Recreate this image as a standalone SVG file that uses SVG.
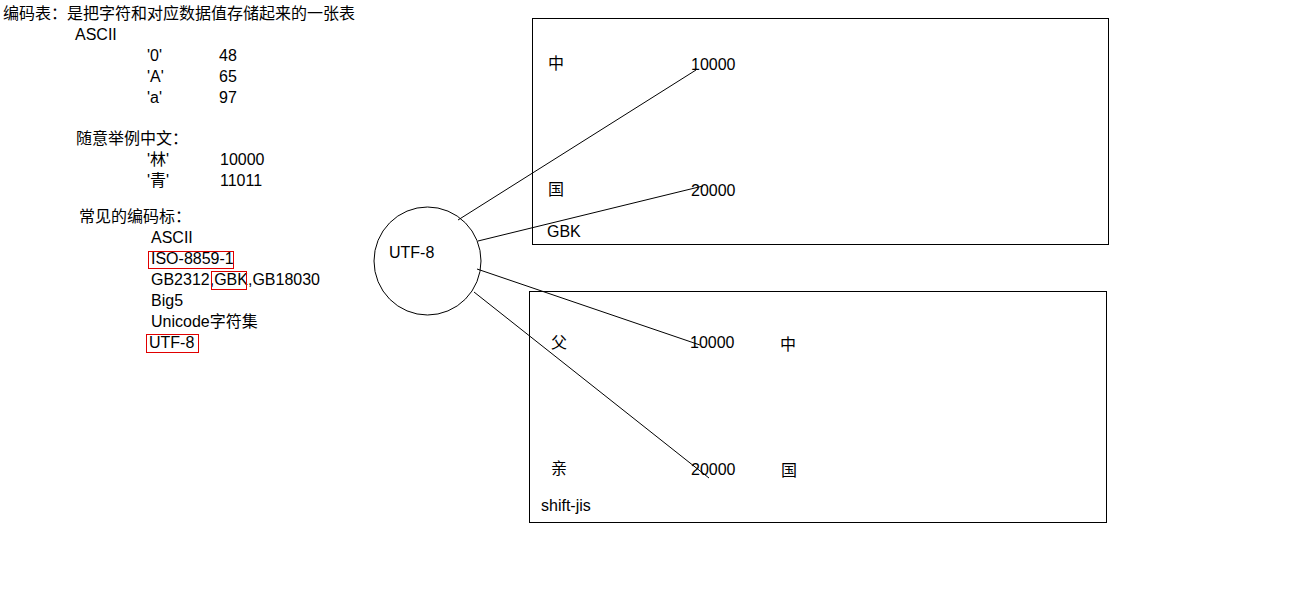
<svg xmlns="http://www.w3.org/2000/svg" width="1298" height="602" viewBox="0 0 1298 602">
<style>
text{font-family:"Liberation Sans","Noto Sans CJK SC",sans-serif;font-size:16px;fill:#000}
.box{fill:none;stroke:#000;stroke-width:1}
.hl{fill:none;stroke:#e00000;stroke-width:1}
.conn line{stroke:#000;stroke-width:1}
</style>
<rect width="1298" height="602" fill="#fff"/>
<g id="notes">
<text x="3" y="19">编码表：是把字符和对应数据值存储起来的一张表</text>
<text x="75" y="40">ASCII</text>
<text x="147" y="61">'0'</text><text x="219" y="61">48</text>
<text x="147" y="82">'A'</text><text x="219" y="82">65</text>
<text x="147" y="103">'a'</text><text x="219" y="103">97</text>
<text x="76" y="144">随意举例中文：</text>
<text x="147" y="165">'林'</text><text x="220" y="165">10000</text>
<text x="147" y="186">'青'</text><text x="220" y="186">11011</text>
<text x="79" y="222">常见的编码标：</text>
<text x="151" y="243">ASCII</text>
<text x="151" y="264">ISO-8859-1</text>
<rect class="hl" x="148.5" y="251.5" width="85" height="17"/>
<text x="151" y="285">GB2312,GBK,GB18030</text>
<rect class="hl" x="211.5" y="271.5" width="35" height="18"/>
<text x="151" y="306">Big5</text>
<text x="151" y="327">Unicode字符集</text>
<text x="149" y="348">UTF-8</text>
<rect class="hl" x="146.5" y="334.5" width="52" height="18"/>
</g>
<g id="utf8">
<ellipse class="box" cx="427.5" cy="261" rx="53.5" ry="54"/>
<text x="389" y="258">UTF-8</text>
</g>
<g id="gbk">
<rect class="box" x="532.5" y="18.5" width="576" height="226"/>
<text x="548" y="69">中</text>
<text x="691" y="70">10000</text>
<text x="548" y="195">国</text>
<text x="691" y="196">20000</text>
<text x="547" y="237">GBK</text>
</g>
<g id="shiftjis">
<rect class="box" x="529.5" y="291.5" width="577" height="231"/>
<text x="551" y="348">父</text>
<text x="690" y="348">10000</text>
<text x="780" y="350">中</text>
<text x="551" y="474">亲</text>
<text x="691" y="475">20000</text>
<text x="781" y="476">国</text>
<text x="541" y="511">shift-jis</text>
</g>
<g class="conn" id="connectors">
<line x1="458" y1="220" x2="696" y2="70"/>
<line x1="478" y1="241" x2="703" y2="186"/>
<line x1="477" y1="269" x2="700" y2="345"/>
<line x1="474" y1="292" x2="709" y2="478"/>
</g>
</svg>
